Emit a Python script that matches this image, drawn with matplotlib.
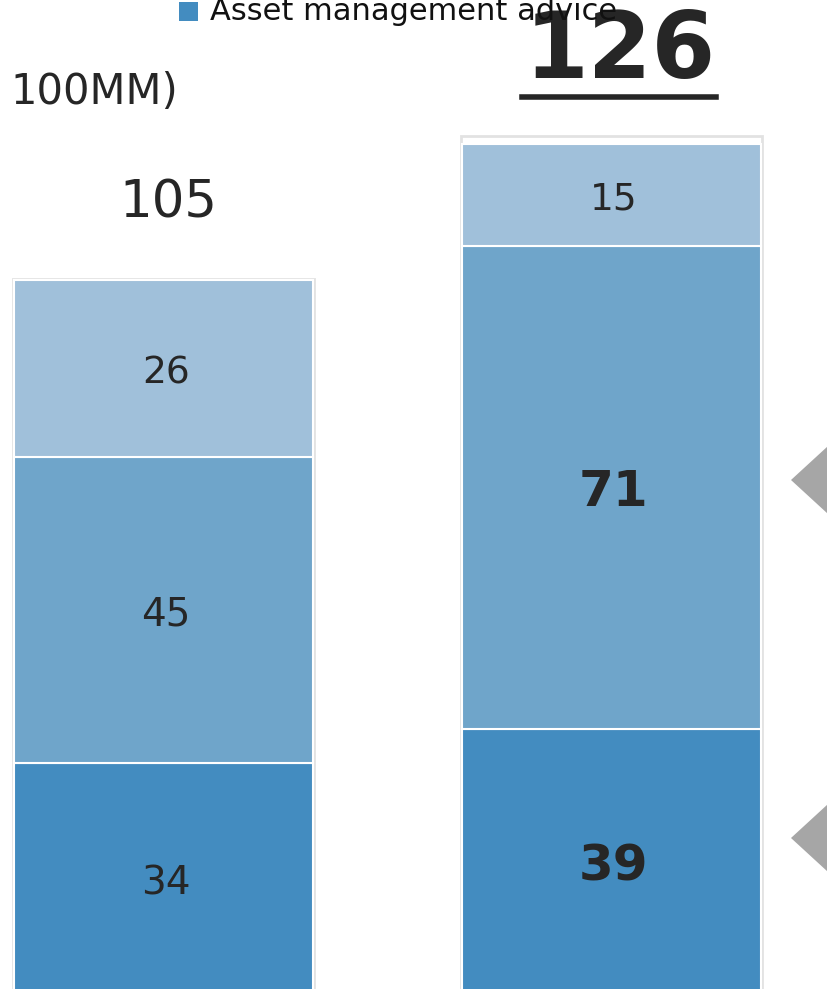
import matplotlib.pyplot as plt
from matplotlib.patches import Polygon, Rectangle
from matplotlib.lines import Line2D

# stacked values, bottom -> top
periods = [0, 1]
seg_bottom = [34, 39]
seg_middle = [45, 71]
seg_top = [26, 15]
totals = [105, 126]
bold_labels = [False, True]

c_bottom = '#438cc0'
c_middle = '#6fa5ca'
c_top = '#a0c0da'
txt = '#262626'

W, H = 827, 989
fig = plt.figure(figsize=(W / 100, H / 100), dpi=100)
ax = fig.add_axes([0, 0, 1, 1])
ax.set_xlim(-0.365, 1.481)
ax.set_ylim(0.74, 146.2)
ax.axis('off')

width = 0.667
bot2 = [a + b for a, b in zip(seg_bottom, seg_middle)]

# faint shadow round the bars
for x, t in zip(periods, totals):
    ax.add_patch(Rectangle((x - width / 2 - 0.003, 0), width + 0.006, t + 0.2,
                           facecolor='none', edgecolor='#e2e2e2', lw=2, zorder=1))

ax.bar(periods, seg_bottom, width, color=c_bottom, edgecolor='white', lw=1.5, zorder=2)
ax.bar(periods, seg_middle, width, bottom=seg_bottom, color=c_middle,
       edgecolor='white', lw=1.5, zorder=2)
ax.bar(periods, seg_top, width, bottom=bot2, color=c_top,
       edgecolor='white', lw=1.5, zorder=2)

dy = -0.7
for x, b, m, t, bold in zip(periods, seg_bottom, seg_middle, seg_top, bold_labels):
    fw = 'bold' if bold else 'normal'
    fs = 36 if bold else 28
    ax.text(x + 0.005, b / 2 + dy, str(b), ha='center', va='center', fontsize=fs,
            fontweight=fw, color=txt, zorder=3)
    ax.text(x + 0.005, b + m / 2 + dy, str(m), ha='center', va='center', fontsize=fs,
            fontweight=fw, color=txt, zorder=3)
    ax.text(x + 0.005, b + m + t / 2 + dy, str(t), ha='center', va='center', fontsize=27,
            color=txt, zorder=3)

# totals
ax.text(periods[0] + 0.01, totals[0] + 11.3, str(totals[0]), ha='center', va='center',
        fontsize=37, color=txt)
ax.text(periods[1] + 0.02, totals[1] + 12.6, str(totals[1]), ha='center', va='center',
        fontsize=66, fontweight='bold', color=txt, zorder=4)
fig.add_artist(Line2D([522 / W, 716 / W], [1 - 97 / H, 1 - 97 / H], color=txt, lw=4))

# unit label and legend (clipped by the crop)
fig.text(10 / W, 1 - 92 / H, '100MM)', ha='left', va='center', fontsize=30, color=txt)
fig.add_artist(Rectangle((179 / W, 1 - 21 / H), 19 / W, 19 / H, transform=fig.transFigure,
                         facecolor=c_bottom, edgecolor='none'))
fig.text(210 / W, 1 - 20 / H, 'Asset management advice', ha='left', va='baseline',
         fontsize=22, color='#111111')

# grey arrows at the right edge
for tip in [480, 838]:
    fig.add_artist(Polygon([(791 / W, 1 - tip / H), (840 / W, 1 - (tip - 45) / H),
                            (840 / W, 1 - (tip + 45) / H)], closed=True,
                           transform=fig.transFigure, facecolor='#a6a6a6', edgecolor='none'))

fig.savefig('out.png', dpi=100)
